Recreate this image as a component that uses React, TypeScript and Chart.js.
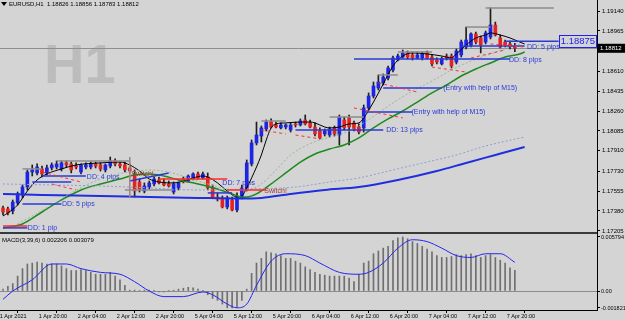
import React, { useEffect, useRef } from 'react';
import { Chart, registerables } from 'chart.js';

Chart.register(...registerables);

const FONT = "'Liberation Sans', Arial, sans-serif";

const symbolName = 'EURUSD,H1';

const opens = [1.17407,1.17398,1.17380,1.17451,1.17521,1.17591,1.17723,1.17715,1.17750,1.17715,1.17759,1.17767,1.17750,1.17803,1.17794,1.17776,1.17723,1.17767,1.17767,1.17794,1.17785,1.17741,1.17776,1.17820,1.17794,1.17785,1.17759,1.17706,1.17635,1.17556,1.17591,1.17618,1.17653,1.17635,1.17618,1.17547,1.17583,1.17662,1.17644,1.17662,1.17706,1.17671,1.17679,1.17583,1.17503,1.17486,1.17415,1.17477,1.17389,1.17495,1.17574,1.17794,1.17979,1.18040,1.18102,1.18163,1.18137,1.18111,1.18119,1.18093,1.18146,1.18137,1.18181,1.18155,1.18119,1.18084,1.18058,1.18049,1.18111,1.18049,1.18181,1.18199,1.18155,1.18119,1.18111,1.18287,1.18392,1.18463,1.18507,1.18551,1.18621,1.18709,1.18735,1.18771,1.18753,1.18727,1.18727,1.18771,1.18735,1.18709,1.18674,1.18744,1.18744,1.18691,1.18753,1.18823,1.18841,1.18938,1.18903,1.18867,1.18911,1.19017,1.18903,1.18867,1.18850,1.18826];
const highs = [1.17424,1.17415,1.17477,1.17547,1.17609,1.17741,1.17785,1.17794,1.17776,1.17785,1.17803,1.17820,1.17820,1.17820,1.17811,1.17803,1.17794,1.17803,1.17811,1.17811,1.17803,1.17794,1.17855,1.17838,1.17811,1.17811,1.17794,1.17741,1.17662,1.17627,1.17644,1.17679,1.17679,1.17662,1.17644,1.17635,1.17635,1.17679,1.17697,1.17715,1.17723,1.17723,1.17715,1.17609,1.17539,1.17512,1.17512,1.17503,1.17539,1.17609,1.17829,1.18005,1.18163,1.18128,1.18181,1.18190,1.18163,1.18155,1.18146,1.18155,1.18163,1.18190,1.18225,1.18181,1.18155,1.18111,1.18102,1.18119,1.18128,1.18225,1.18207,1.18225,1.18172,1.18146,1.18313,1.18419,1.18515,1.18577,1.18586,1.18656,1.18744,1.18762,1.18797,1.18788,1.18779,1.18779,1.18779,1.18788,1.18753,1.18727,1.18735,1.18762,1.18762,1.18806,1.18885,1.18999,1.18947,1.18955,1.18920,1.18964,1.19167,1.19043,1.18929,1.18885,1.18876,1.18856];
const lows = [1.17345,1.17345,1.17354,1.17433,1.17495,1.17565,1.17688,1.17697,1.17679,1.17697,1.17741,1.17750,1.17732,1.17767,1.17715,1.17750,1.17706,1.17750,1.17750,1.17759,1.17732,1.17723,1.17759,1.17776,1.17759,1.17723,1.17715,1.17503,1.17547,1.17539,1.17574,1.17600,1.17618,1.17600,1.17591,1.17530,1.17565,1.17627,1.17635,1.17653,1.17662,1.17662,1.17565,1.17495,1.17468,1.17407,1.17398,1.17380,1.17371,1.17486,1.17556,1.17776,1.17961,1.17987,1.18084,1.18111,1.18111,1.18102,1.18102,1.18075,1.18119,1.18128,1.18137,1.18111,1.18040,1.18014,1.18040,1.18031,1.18040,1.17961,1.18093,1.17961,1.18084,1.18058,1.18075,1.18269,1.18375,1.18445,1.18489,1.18533,1.18603,1.18700,1.18727,1.18718,1.18709,1.18718,1.18709,1.18718,1.18656,1.18674,1.18665,1.18709,1.18639,1.18674,1.18735,1.18806,1.18823,1.18850,1.18771,1.18850,1.18894,1.18920,1.18815,1.18823,1.18806,1.18783];
const closes = [1.17371,1.17363,1.17459,1.17530,1.17591,1.17723,1.17741,1.17767,1.17706,1.17759,1.17785,1.17794,1.17803,1.17785,1.17741,1.17767,1.17785,1.17785,1.17794,1.17776,1.17750,1.17785,1.17820,1.17794,1.17776,1.17741,1.17732,1.17556,1.17574,1.17600,1.17627,1.17662,1.17627,1.17609,1.17600,1.17618,1.17627,1.17635,1.17688,1.17706,1.17671,1.17706,1.17583,1.17503,1.17486,1.17415,1.17495,1.17389,1.17503,1.17583,1.17803,1.17979,1.18049,1.18111,1.18163,1.18119,1.18119,1.18137,1.18137,1.18137,1.18137,1.18172,1.18146,1.18119,1.18058,1.18023,1.18084,1.18102,1.18058,1.18207,1.18111,1.18119,1.18102,1.18075,1.18287,1.18392,1.18480,1.18515,1.18559,1.18639,1.18727,1.18744,1.18771,1.18735,1.18727,1.18753,1.18762,1.18727,1.18674,1.18691,1.18718,1.18727,1.18656,1.18788,1.18867,1.18885,1.18938,1.18867,1.18841,1.18947,1.19017,1.18929,1.18823,1.18841,1.18826,1.18812];

// Moving averages: [bar index, price]
const fastMA = [[0,1.17336],[1,1.17363],[3,1.17433],[5,1.17556],[7,1.17653],[9,1.17706],[12,1.17750],[15,1.17785],[20,1.17803],[24,1.17811],[26,1.17785],[28,1.17732],[30,1.17662],[32,1.17635],[35,1.17627],[37,1.17644],[39,1.17671],[41,1.17688],[42,1.17679],[44,1.17627],[46,1.17556],[48,1.17503],[49,1.17512],[50,1.17583],[51,1.17671],[52,1.17767],[53,1.17873],[54,1.18005],[55,1.18111],[56,1.18146],[58,1.18155],[61,1.18163],[63,1.18163],[64,1.18155],[66,1.18119],[67,1.18111],[69,1.18119],[71,1.18146],[73,1.18155],[74,1.18199],[76,1.18339],[78,1.18498],[80,1.18656],[82,1.18744],[84,1.18771],[87,1.18762],[90,1.18744],[92,1.18727],[93,1.18762],[95,1.18841],[97,1.18903],[99,1.18929],[100,1.18947],[102,1.18929],[104,1.18903],[106,1.18867],[107,1.18850]];
const midMA = [[0,1.17231],[4,1.17266],[8,1.17371],[12,1.17477],[16,1.17565],[20,1.17618],[24,1.17662],[27,1.17697],[30,1.17706],[33,1.17688],[36,1.17653],[40,1.17618],[44,1.17574],[47,1.17530],[49,1.17503],[50,1.17503],[52,1.17530],[55,1.17618],[58,1.17715],[61,1.17811],[64,1.17882],[67,1.17926],[70,1.17961],[73,1.18023],[76,1.18111],[79,1.18190],[82,1.18260],[85,1.18339],[88,1.18419],[91,1.18489],[94,1.18568],[97,1.18630],[100,1.18683],[103,1.18735],[106,1.18762],[107,1.18779]];
const slowMA = [[0,1.17530],[8,1.17521],[20,1.17512],[30,1.17503],[40,1.17495],[48,1.17490],[53,1.17495],[59,1.17530],[66,1.17565],[73,1.17591],[81,1.17653],[89,1.17732],[95,1.17803],[101,1.17873],[107,1.17943]];
const dotGreenMA = [[3,1.17266],[6,1.17336],[10,1.17433],[14,1.17539],[18,1.17627],[22,1.17688],[26,1.17723],[30,1.17741],[34,1.17723],[38,1.17671],[42,1.17618],[46,1.17574],[50,1.17565],[53,1.17618],[56,1.17741],[59,1.17873],[62,1.17952],[65,1.18005],[68,1.18040],[71,1.18084],[74,1.18155],[77,1.18243],[80,1.18331],[84,1.18436],[88,1.18524],[92,1.18621],[96,1.18700],[100,1.18762],[104,1.18823],[106,1.18850]];
const dotBlueMA = [[0,1.17618],[10,1.17609],[20,1.17600],[30,1.17583],[40,1.17565],[50,1.17574],[60,1.17591],[67,1.17635],[73,1.17671],[80,1.17741],[87,1.17811],[93,1.17873],[99,1.17952],[107,1.18031]];

// MACD(3,39,6): main line (histogram) per bar, and signal line points
const macdMain = [0.0002,0.0005,0.0008,0.0016,0.0024,0.0029,0.0030,0.0031,0.0030,0.0029,0.0029,0.0029,0.0027,0.0024,0.0022,0.0022,0.0023,0.0022,0.0020,0.0018,0.0018,0.0018,0.0020,0.0016,0.0012,0.0006,0.0001,0.0001,0.00005,0.0001,0.0001,0.00005,-0.0001,-0.0001,0.00005,0.0001,0.0002,0.0003,0.0004,0.00035,0.0002,0.00005,-0.0004,-0.0008,-0.0010,-0.0014,-0.0018,-0.001821,-0.0017,-0.0010,0.0002,0.0019,0.0030,0.0035,0.0042,0.0041,0.0040,0.0038,0.0035,0.0035,0.0032,0.0030,0.0026,0.0023,0.0020,0.0018,0.0017,0.0016,0.0016,0.0016,0.0016,0.0014,0.0010,0.0018,0.0030,0.0032,0.0040,0.0043,0.0046,0.0048,0.0054,0.0057,0.005794,0.0056,0.0053,0.0051,0.0048,0.0045,0.0042,0.0038,0.0036,0.0036,0.0037,0.0039,0.0038,0.0039,0.0040,0.0038,0.0036,0.0038,0.0039,0.0036,0.0033,0.0030,0.0025,0.002206];
const macdSignal = [[0,-0.0009],[2,0.0],[6,0.0012],[10,0.0029],[13,0.0029],[16,0.0024],[20,0.0020],[24,0.0018],[27,0.0010],[30,0.0],[33,-0.0006],[37,-0.0006],[41,-0.0001],[43,-0.0004],[46,-0.0014],[48,-0.0018],[50,-0.0014],[52,0.0006],[55,0.0032],[58,0.0040],[62,0.0038],[65,0.0030],[69,0.0020],[73,0.0018],[75,0.0020],[78,0.0030],[81,0.0046],[84,0.0055],[87,0.0053],[90,0.0046],[93,0.0038],[96,0.0036],[99,0.0040],[102,0.0040],[105,0.003079]];

// Axis ticks
const xTickIdx = [-1, 7, 15, 23, 31, 39, 47, 55, 63, 71, 79, 87, 95, 103];
const xTickText = ['1 Apr 2021', '1 Apr 20:00', '2 Apr 04:00', '2 Apr 12:00', '2 Apr 20:00', '5 Apr 04:00', '5 Apr 12:00', '5 Apr 20:00', '6 Apr 04:00', '6 Apr 12:00', '6 Apr 20:00', '7 Apr 04:00', '7 Apr 12:00', '7 Apr 20:00'];
const yTickVals = [1.19140, 1.18965, 1.18610, 1.18435, 1.18260, 1.18085, 1.17910, 1.17730, 1.17555, 1.17380, 1.17205];
const yTickText = ['1.19140', '1.18965', '1.18610', '1.18435', '1.18260', '1.18085', '1.17910', '1.17730', '1.17555', '1.17380', '1.17205'];
const macdTickVals = [0.005794, 0, -0.001821];
const macdTickText = ['0.005794', '0.00', '-0.001821'];
const macdTitle = 'MACD(3,39,6) 0.002206 0.003079';

// Chart objects: [index0, price0, index1, price1]
const blueSegs = [[8,1.17688,17,1.17688],[6,1.17635,14,1.17635],[4,1.17442,12,1.17442],[0,1.17231,5,1.17231],[26,1.17644,34,1.17715],[42,1.17539,47,1.17539],[60,1.18093,78,1.18093],[74,1.18251,84,1.18251],[78,1.18463,90,1.18463],[72,1.18718,104,1.18718],[94,1.18832,107,1.18832],[103,1.18875,114,1.18875]];
const graySegs = [[4,1.17750,8,1.17750],[11,1.17820,26,1.17820],[25,1.17565,35,1.17565],[53,1.18172,58,1.18172],[67,1.18207,74,1.18207],[81,1.18779,88,1.18779],[95,1.18999,100,1.18999],[99,1.19167,113,1.19167],[77,1.18577,81,1.18577]];
const brownSegs = [[26,1.17855,26,1.17503]];
const redSolidSegs = [[0,1.17248,5,1.17248],[32,1.17662,46,1.17662],[46,1.17565,54,1.17565]];
const redDashSegs = [[8,1.17723,16,1.17635],[10,1.17618,15,1.17565],[53,1.18093,58,1.18058],[60,1.18049,65,1.18014],[72,1.18287,82,1.18199],[77,1.18507,85,1.18427],[88,1.18647,95,1.18603],[96,1.18727,103,1.18797],[100,1.18850,107,1.18823]];

const labelIdx = [17.2, 12.1, 5.1, 26.3, 45, 53.6, 78.6, 83.8, 90.3, 103.8, 107.5];
const labelPrice = [1.17679, 1.17442, 1.17231, 1.17706, 1.17627, 1.17556, 1.18093, 1.18251, 1.18463, 1.18709, 1.18823];
const labelText = ['DD: 4 pips', 'DD: 5 pips', 'DD: 1 pip', 'Switch!', 'DD: 7 pips', 'Switch!', 'DD: 13 pips', '(Entry with help of M15)', '(Entry with help of M15)', 'DD: 8 pips', 'DD: 5 pips'];
const labelKind = ['b', 'b', 'b', 'r', 'b', 'r', 'b', 'b', 'b', 'b', 'b'];

const priceTag = 1.18875;
const priceTagIdx = 114;

const BG = '#d4d4d4';
const BULL = '#1d24e3';
const BEAR = '#e5231d';
const ANN_BLUE = '#2a3ad6';

export default function App() {
  const ref = useRef<HTMLCanvasElement>(null);

  useEffect(() => {
    document.body.style.margin = '0';
    const canvas = ref.current as HTMLCanvasElement;
    const idx = opens.map((_, i) => i);
    const last = closes.length - 1;

    const pts = (arr: number[][]) => arr.map((p) => ({ x: p[0], y: p[1] }));
    const seg = (s: number[], color: string, width: number, dash: number[]) => ({
      type: 'line',
      data: [{ x: s[0], y: s[1] }, { x: s[2], y: s[3] }],
      borderColor: color,
      borderWidth: width,
      borderDash: dash,
      pointRadius: 0,
      yAxisID: 'y',
      order: 1,
    });
    const maLine = (arr: number[][], color: string, width: number, dash: number[]) => ({
      type: 'line',
      data: pts(arr),
      borderColor: color,
      borderWidth: width,
      borderDash: dash,
      pointRadius: 0,
      cubicInterpolationMode: 'monotone',
      yAxisID: 'y',
      order: 2,
    });

    const datasets: any[] = [
      {
        type: 'bar',
        data: idx.map((i) => ({ x: i, y: [lows[i], highs[i]] })),
        backgroundColor: '#1e1e1e',
        barThickness: 1,
        grouped: false,
        yAxisID: 'y',
        order: 5,
      },
      {
        type: 'bar',
        data: idx.map((i) => ({ x: i, y: [opens[i], closes[i]] })),
        backgroundColor: idx.map((i) => (closes[i] >= opens[i] ? BULL : BEAR)),
        barThickness: 3,
        minBarLength: 1,
        grouped: false,
        yAxisID: 'y',
        order: 4,
      },
      maLine(dotBlueMA, '#8d9fd6', 1, [2, 2]),
      maLine(dotGreenMA, '#97b897', 1, [2, 2]),
      maLine(slowMA, '#1f2ee0', 2, []),
      maLine(midMA, '#1d8a1d', 1.5, []),
      maLine(fastMA, '#000000', 1, []),
      ...graySegs.map((s) => seg(s, '#8c8c8c', 1.5, [])),
      ...brownSegs.map((s) => seg(s, '#a08585', 1, [])),
      ...redSolidSegs.map((s) => seg(s, '#ff2b2b', 1.5, [])),
      ...redDashSegs.map((s) => seg(s, '#ff3030', 1, [3, 3])),
      ...blueSegs.map((s) => seg(s, ANN_BLUE, 1.5, [])),
      {
        type: 'bar',
        data: idx.map((i) => ({ x: i, y: macdMain[i] })),
        backgroundColor: '#6f6f6f',
        barThickness: 1,
        grouped: false,
        yAxisID: 'macd',
        order: 5,
      },
      {
        type: 'line',
        data: pts(macdSignal),
        borderColor: '#2626f0',
        borderWidth: 1,
        pointRadius: 0,
        cubicInterpolationMode: 'monotone',
        yAxisID: 'macd',
        order: 2,
      },
    ];

    const zeroPad = (s: any) => {
      s.paddingTop = 0;
      s.paddingBottom = 0;
      s.paddingLeft = 0;
      s.paddingRight = 0;
    };

    const decor = {
      id: 'mt4decor',
      beforeDraw(chart: any) {
        const ctx = chart.ctx;
        ctx.save();
        ctx.fillStyle = BG;
        ctx.fillRect(0, 0, chart.width, chart.height);
        ctx.restore();
      },
      beforeDatasetsDraw(chart: any) {
        const ctx = chart.ctx;
        const y = chart.scales.y;
        const area = chart.chartArea;
        ctx.save();
        ctx.fillStyle = '#bcbcbc';
        ctx.font = `bold 56px ${FONT}`;
        ctx.textBaseline = 'alphabetic';
        ctx.textAlign = 'left';
        ctx.fillText('H1', 44, 83);
        const by = Math.round(y.getPixelForValue(closes[last])) + 0.5;
        ctx.strokeStyle = '#8e8e8e';
        ctx.lineWidth = 1;
        ctx.beginPath();
        ctx.moveTo(area.left, by);
        ctx.lineTo(area.right, by);
        ctx.stroke();
        ctx.restore();
      },
      afterDatasetsDraw(chart: any) {
        const ctx = chart.ctx;
        const x = chart.scales.x;
        const y = chart.scales.y;
        const m = chart.scales.macd;
        const area = chart.chartArea;
        ctx.save();
        // price tag box
        const tx = x.getPixelForValue(priceTagIdx);
        const ty = y.getPixelForValue(priceTag);
        ctx.font = `9.5px ${FONT}`;
        const tw = ctx.measureText(priceTag.toFixed(5)).width + 3;
        ctx.fillStyle = BG;
        ctx.fillRect(tx, ty - 6, tw, 12);
        ctx.strokeStyle = '#2222ee';
        ctx.lineWidth = 1;
        ctx.strokeRect(Math.round(tx) + 0.5, Math.round(ty - 6) + 0.5, Math.round(tw), 12);
        ctx.fillStyle = '#2222ee';
        ctx.textBaseline = 'middle';
        ctx.textAlign = 'left';
        ctx.fillText(priceTag.toFixed(5), tx + 2, ty + 0.5);
        // labels of chart objects
        ctx.font = `7px ${FONT}`;
        labelText.forEach((t, k) => {
          ctx.fillStyle = labelKind[k] === 'r' ? '#a23a33' : ANN_BLUE;
          ctx.fillText(t, x.getPixelForValue(labelIdx[k]), y.getPixelForValue(labelPrice[k]));
        });
        // pane separator
        ctx.fillStyle = '#3a3a3a';
        ctx.fillRect(area.left, m.top, area.right - area.left, 2);
        // MACD title
        ctx.font = `6px ${FONT}`;
        ctx.fillStyle = '#000';
        ctx.fillText(macdTitle, 2, m.top + 8);
        // header
        ctx.beginPath();
        ctx.moveTo(1, 2);
        ctx.lineTo(7, 2);
        ctx.lineTo(4, 6);
        ctx.closePath();
        ctx.fill();
        const head = `${symbolName}  ${opens[last].toFixed(5)} ${highs[last].toFixed(5)} ${lows[last].toFixed(5)} ${closes[last].toFixed(5)}`;
        ctx.fillText(head, 9, 4.5);
        // current price label on the axis
        const cy = y.getPixelForValue(closes[last]);
        ctx.fillStyle = '#000';
        ctx.fillRect(area.right, cy - 4.5, chart.width - area.right, 9);
        ctx.fillStyle = '#fff';
        ctx.fillText(closes[last].toFixed(5), area.right + 3, cy);
        ctx.restore();
      },
    };

    const chart = new Chart(canvas, {
      type: 'bar',
      data: { datasets },
      options: {
        responsive: false,
        maintainAspectRatio: false,
        animation: false,
        devicePixelRatio: 1,
        events: [],
        layout: { padding: 0 },
        plugins: { legend: { display: false }, tooltip: { enabled: false } },
        scales: {
          x: {
            type: 'linear',
            position: 'bottom',
            min: -0.615,
            max: 121.85,
            offset: false,
            afterBuildTicks: (s: any) => {
              s.ticks = xTickIdx.map((v) => ({ value: v }));
            },
            afterFit: (s: any) => {
              s.height = 10;
              zeroPad(s);
            },
            ticks: {
              autoSkip: false,
              maxRotation: 0,
              minRotation: 0,
              align: 'start',
              padding: 0,
              color: '#000',
              font: { size: 5.5, family: FONT },
              callback: (_v: any, k: number) => ' ' + xTickText[k],
            },
            grid: { drawOnChartArea: false, drawTicks: true, tickLength: 3, tickColor: '#000' },
            border: { display: true, color: '#000', width: 1 },
          },
          y: {
            type: 'linear',
            position: 'right',
            stack: 'panes',
            stackWeight: 232,
            min: 1.17195,
            max: 1.19237,
            afterBuildTicks: (s: any) => {
              s.ticks = yTickVals.map((v) => ({ value: v }));
            },
            afterFit: (s: any) => {
              s.width = 28;
              zeroPad(s);
            },
            ticks: {
              color: '#000',
              padding: 2,
              font: { size: 6, family: FONT },
              callback: (_v: any, k: number) => yTickText[k],
            },
            grid: { drawOnChartArea: false, drawTicks: true, tickLength: 3, tickColor: '#000' },
            border: { display: true, color: '#000', width: 1 },
          },
          macd: {
            type: 'linear',
            position: 'right',
            stack: 'panes',
            stackWeight: 78,
            min: -0.002036,
            max: 0.00633,
            afterBuildTicks: (s: any) => {
              s.ticks = macdTickVals.map((v) => ({ value: v }));
            },
            afterFit: (s: any) => {
              s.width = 28;
              zeroPad(s);
            },
            ticks: {
              color: '#000',
              padding: 1,
              font: { size: 5.5, family: FONT },
              callback: (_v: any, k: number) => macdTickText[k],
            },
            grid: {
              drawOnChartArea: true,
              drawTicks: true,
              tickLength: 3,
              tickColor: '#000',
              color: (c: any) => (c.tick && c.tick.value === 0 ? '#8c8c8c' : 'rgba(0,0,0,0)'),
            },
            border: { display: true, color: '#000', width: 1 },
          },
        },
      } as any,
      plugins: [decor],
    } as any);

    return () => chart.destroy();
  }, []);

  return (
    <div style={{ position: 'fixed', left: 0, top: 0, width: 625, height: 320 }}>
      <canvas ref={ref} width={625} height={320} style={{ display: 'block', width: 625, height: 320 }} />
    </div>
  );
}
